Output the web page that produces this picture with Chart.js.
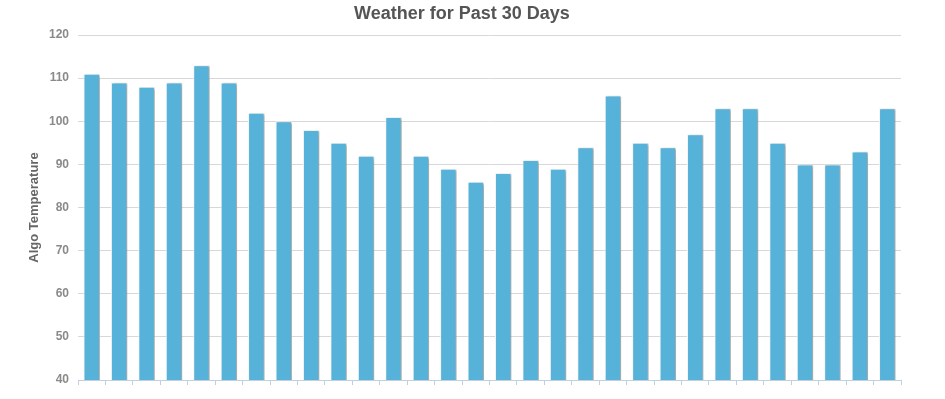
<!DOCTYPE html>
<html>
<head>
<meta charset="utf-8">
<script src="https://cdn.jsdelivr.net/npm/chart.js@4.4.1/dist/chart.umd.min.js"></script>
<style>
html,body{margin:0;padding:0;background:#fff;}
#wrap{width:945px;height:399px;position:relative;}
</style>
</head>
<body>
<div id="wrap"><canvas id="c" width="945" height="399"></canvas></div>
<script>
const chartTitle = 'Weather for Past 30 Days';
const yAxisTitle = 'Algo Temperature';
const categories = ['Day 1','Day 2','Day 3','Day 4','Day 5','Day 6','Day 7','Day 8','Day 9','Day 10',
  'Day 11','Day 12','Day 13','Day 14','Day 15','Day 16','Day 17','Day 18','Day 19','Day 20',
  'Day 21','Day 22','Day 23','Day 24','Day 25','Day 26','Day 27','Day 28','Day 29','Day 30'];
const temps = [111,109,108,109,113,109,102,100,98,95,92,101,92,89,86,88,91,89,94,106,95,94,97,103,103,95,90,90,93,103];
const yMin = 40, yMax = 120, yStep = 10;

const shadowPlugin = {
  id: 'barShadow',
  beforeDatasetsDraw(chart) {
    const ctx = chart.ctx;
    ctx.save();
    ctx.shadowColor = 'rgba(0,0,0,0.3)';
    ctx.shadowOffsetX = 2;
    ctx.shadowOffsetY = 1;
    ctx.shadowBlur = 2;
  },
  afterDatasetsDraw(chart) {
    chart.ctx.restore();
  }
};

new Chart(document.getElementById('c'), {
  type: 'bar',
  data: {
    labels: categories,
    datasets: [{
      data: temps,
      backgroundColor: '#56b2d9',
      borderColor: '#f4f4f4',
      borderWidth: 1,
      barPercentage: 0.6,
      categoryPercentage: 1.0
    }]
  },
  plugins: [shadowPlugin],
  options: {
    responsive: false,
    animation: false,
    devicePixelRatio: 1,
    layout: { padding: { left: 23, right: 44, top: 0, bottom: 0 } },
    plugins: {
      legend: { display: false },
      tooltip: { enabled: false },
      title: {
        display: true,
        text: chartTitle,
        color: '#555555',
        font: { family: 'Liberation Sans, Arial, sans-serif', size: 18, weight: 'bold' },
        padding: { top: 3, bottom: 10.4 }
      }
    },
    scales: {
      x: {
        offset: true,
        grid: {
          offset: true,
          display: true,
          drawOnChartArea: false,
          drawTicks: true,
          tickLength: 5,
          color: '#c0d0e0'
        },
        border: { display: true, color: '#c0d0e0', width: 1 },
        ticks: { display: false },
        afterFit(scale) { scale.height = 19; }
      },
      y: {
        min: yMin,
        max: yMax,
        ticks: {
          stepSize: yStep,
          color: '#8a8a8a',
          padding: 9,
          font: { family: 'Liberation Sans, Arial, sans-serif', size: 12, weight: 'bold' }
        },
        grid: {
          drawTicks: false,
          color: (c) => (c.tick && c.tick.value === yMin) ? 'rgba(0,0,0,0)' : '#d8d8d8',
          lineWidth: 1
        },
        border: { display: false },
        title: {
          display: true,
          text: yAxisTitle,
          color: '#666666',
          font: { family: 'Liberation Sans, Arial, sans-serif', size: 13, weight: 'bold' },
          padding: { top: 4, bottom: 4 }
        },
        afterFit(scale) { scale.width = 55; }
      }
    }
  }
});
</script>
</body>
</html>
